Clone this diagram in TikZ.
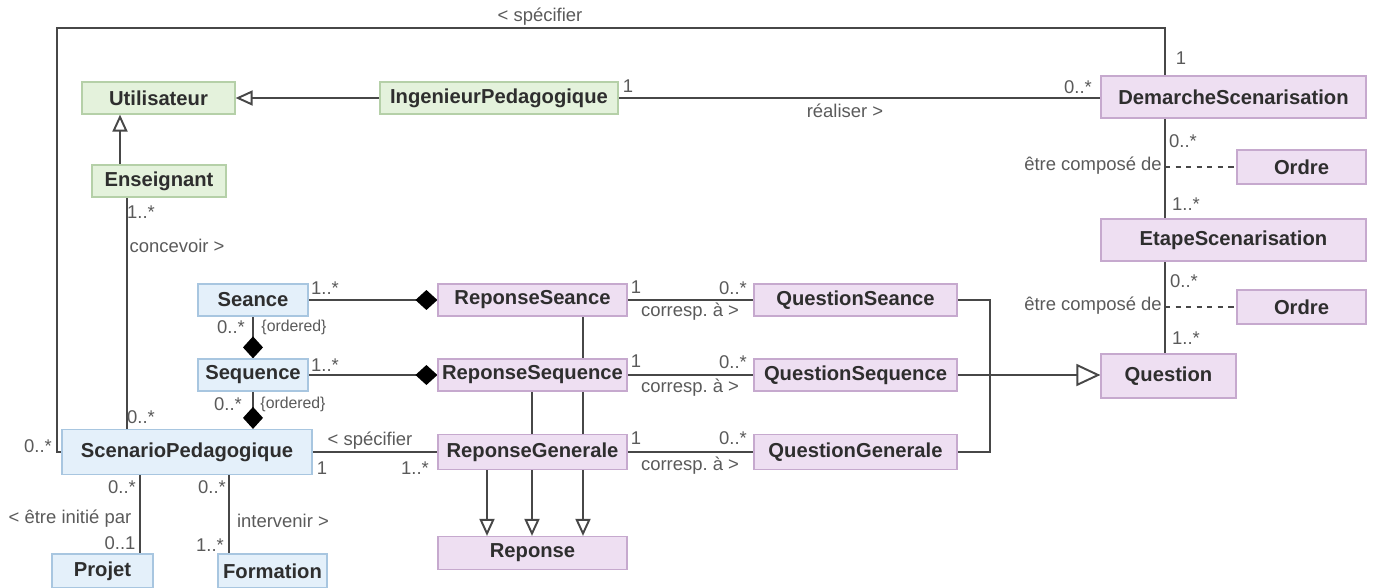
\documentclass[tikz,border=0pt]{standalone}
\usepackage{fontspec}
\setmainfont{Liberation Sans}
\usetikzlibrary{arrows.meta,backgrounds}

\definecolor{greenfill}{HTML}{E4F2DC}
\definecolor{greenline}{HTML}{B5D0A8}
\definecolor{bluefill}{HTML}{E4F0FA}
\definecolor{blueline}{HTML}{A8C6E0}
\definecolor{purplefill}{HTML}{EEDFF2}
\definecolor{purpleline}{HTML}{C6A9CE}
\definecolor{wire}{HTML}{474747}
\definecolor{note}{HTML}{5A5A5A}
\definecolor{boxtext}{HTML}{2E2E2E}

\begin{document}
\begin{tikzpicture}[x=0.02cm, y=-0.02cm,
    % Define the class box styles
    classbox/.style={draw, line width=0.7pt, inner sep=1pt, text=boxtext,
      font=\fontsize{11.5}{13}\selectfont\bfseries},
    greenbox/.style={classbox, fill=greenfill, draw=greenline},
    bluebox/.style={classbox, fill=bluefill, draw=blueline},
    purplebox/.style={classbox, fill=purplefill, draw=purpleline},
    % Define the connector and label styles
    wirepath/.style={draw=wire, line width=1.1pt},
    inherit/.style={wirepath, -{Triangle[open, length=0.34cm, width=0.3cm]}},
    compose/.style={wirepath, -{Diamond[length=0.44cm, width=0.4cm, fill=black, color=black]}},
    lbl/.style={text=note, inner sep=1pt, font=\fontsize{10.5}{12}\selectfont},
    smalllbl/.style={lbl, font=\fontsize{9}{10}\selectfont}
  ]
  \useasboundingbox (0,0) rectangle (1373,588);

  % Draw the users
  \node[greenbox, minimum width=3.06cm, minimum height=0.64cm] (utilisateur) at (158.5, 98) {Utilisateur};
  \node[greenbox, minimum width=4.76cm, minimum height=0.64cm] (ingenieur) at (499, 98) {IngenieurPedagogique};
  \node[greenbox, minimum width=2.68cm, minimum height=0.64cm] (enseignant) at (159, 181) {Enseignant};

  % Draw the scenario classes
  \node[bluebox, minimum width=2.2cm, minimum height=0.64cm] (seance) at (253, 300) {Seance};
  \node[bluebox, minimum width=2.2cm, minimum height=0.64cm] (sequence) at (253, 375) {Sequence};
  \node[bluebox, minimum width=5cm, minimum height=0.9cm] (scenario) at (187, 452) {ScenarioPedagogique};
  \node[bluebox, minimum width=2.02cm, minimum height=0.68cm] (projet) at (102.5, 571) {Projet};
  \node[bluebox, minimum width=2.18cm, minimum height=0.68cm] (formation) at (272.5, 571) {Formation};

  % Draw the answer and question classes
  \node[purplebox, minimum width=3.78cm, minimum height=0.64cm] (repSeance) at (532.5, 300) {ReponseSeance};
  \node[purplebox, minimum width=3.78cm, minimum height=0.64cm] (repSequence) at (532.5, 375) {ReponseSequence};
  \node[purplebox, minimum width=3.78cm, minimum height=0.7cm] (repGenerale) at (532.5, 452) {ReponseGenerale};
  \node[purplebox, minimum width=3.78cm, minimum height=0.66cm] (reponse) at (532.5, 553) {Reponse};
  \node[purplebox, minimum width=4.06cm, minimum height=0.64cm] (qSeance) at (855.5, 300) {QuestionSeance};
  \node[purplebox, minimum width=4.06cm, minimum height=0.64cm] (qSequence) at (855.5, 375) {QuestionSequence};
  \node[purplebox, minimum width=4.06cm, minimum height=0.7cm] (qGenerale) at (855.5, 452) {QuestionGenerale};

  % Draw the scenarisation classes
  \node[purplebox, minimum width=5.3cm, minimum height=0.84cm] (demarche) at (1233.5, 97) {DemarcheScenarisation};
  \node[purplebox, minimum width=2.58cm, minimum height=0.68cm] (ordreA) at (1301.5, 167) {Ordre};
  \node[purplebox, minimum width=5.3cm, minimum height=0.84cm] (etape) at (1233.5, 240) {EtapeScenarisation};
  \node[purplebox, minimum width=2.58cm, minimum height=0.68cm] (ordreB) at (1301.5, 307) {Ordre};
  \node[purplebox, minimum width=2.7cm, minimum height=0.88cm] (question) at (1168.5, 376) {Question};

  % Points where the connectors run
  \coordinate (userX) at (120, 0);
  \coordinate (teachX) at (127, 0);
  \coordinate (topLeft) at (57, 28);
  \coordinate (topRight) at (1165, 28);
  \coordinate (stemX) at (1165, 0);
  \coordinate (projX) at (140, 0);
  \coordinate (formX) at (229, 0);
  \coordinate (genX) at (487, 0);
  \coordinate (seqX) at (532, 0);
  \coordinate (seaX) at (583, 0);
  \coordinate (join) at (990, 375);

  % Draw the connectors behind the boxes
  \begin{pgfonlayer}{background}
    \draw[inherit] (ingenieur.west) -- (utilisateur.east);
    \draw[inherit] (userX |- enseignant.north) -- (userX |- utilisateur.south);
    \draw[wirepath] (ingenieur.east) -- (ingenieur.east -| demarche.west);
    \draw[wirepath] (scenario.west) -| (topLeft) -- (topRight) -- (topRight |- demarche.north);
    \draw[wirepath] (teachX |- enseignant.south) -- (teachX |- scenario.north);
    \draw[compose] (seance.south) -- (sequence.north);
    \draw[compose] (sequence.south) -- (sequence.south |- scenario.north);
    \draw[compose] (seance.east) -- (seance.east -| repSeance.west);
    \draw[compose] (sequence.east) -- (sequence.east -| repSequence.west);
    \draw[wirepath] (scenario.east) -- (scenario.east -| repGenerale.west);
    \draw[wirepath] (projX |- scenario.south) -- (projX |- projet.north);
    \draw[wirepath] (formX |- scenario.south) -- (formX |- formation.north);
    \draw[wirepath] (seaX |- repSeance.south) -- (seaX |- repSequence.north);
    \draw[inherit] (seaX |- repSequence.south) -- (seaX |- reponse.north);
    \draw[inherit] (seqX |- repSequence.south) -- (seqX |- reponse.north);
    \draw[inherit] (genX |- repGenerale.south) -- (genX |- reponse.north);
    \draw[wirepath] (repSeance.east) -- (qSeance.west);
    \draw[wirepath] (repSequence.east) -- (qSequence.west);
    \draw[wirepath] (repGenerale.east) -- (qGenerale.west);
    \draw[wirepath] (qSeance.east) -| (join);
    \draw[wirepath] (qGenerale.east) -| (join);
    \draw[inherit, -{Triangle[open, length=0.48cm, width=0.44cm]}] (qSequence.east) -- (qSequence.east -| question.west);
    \draw[wirepath] (stemX |- demarche.south) -- (stemX |- etape.north);
    \draw[wirepath] (stemX |- etape.south) -- (stemX |- question.north);
    \draw[wirepath, dashed] (stemX |- ordreA.west) -- (ordreA.west);
    \draw[wirepath, dashed] (stemX |- ordreB.west) -- (ordreB.west);
  \end{pgfonlayer}

  % Add labels to the connectors
  \node[lbl] (specTop) at (540, 17) {< spécifier};
  \node[lbl] (specTopA) at (1181, 58) {1};
  \node[lbl] (specTopB) at (38, 446) {0..*};
  \node[lbl] (realA) at (628, 86) {1};
  \node[lbl] (realB) at (1078, 87) {0..*};
  \node[lbl] (realTxt) at (845, 111) {réaliser >};
  \node[lbl] (concA) at (141, 212) {1..*};
  \node[lbl] (concTxt) at (177, 246) {concevoir >};
  \node[lbl] (concB) at (141, 417) {0..*};
  \node[lbl] (demA) at (1183, 141) {0..*};
  \node[lbl] (demTxt) at (1093, 166) {être composé de};
  \node[lbl] (demB) at (1186, 204) {1..*};
  \node[lbl] (etaA) at (1184, 281) {0..*};
  \node[lbl] (etaTxt) at (1093, 306) {être composé de};
  \node[lbl] (etaB) at (1186, 338) {1..*};
  \node[lbl] (seaA) at (231, 327) {0..*};
  \node[smalllbl] (seaOrd) at (294, 327) {\{ordered\}};
  \node[lbl] (seqA) at (228, 404) {0..*};
  \node[smalllbl] (seqOrd) at (293, 404) {\{ordered\}};
  \node[lbl] (seaRep) at (325, 288) {1..*};
  \node[lbl] (seqRep) at (325, 365) {1..*};
  \node[lbl] (specTxt) at (370, 441) {< spécifier};
  \node[lbl] (specA) at (322, 468) {1};
  \node[lbl] (specB) at (415, 468) {1..*};
  \node[lbl] (projA) at (122, 487) {0..*};
  \node[lbl] (projTxt) at (70, 519) {< être initié par};
  \node[lbl] (projB) at (120, 543) {0..1};
  \node[lbl] (formA) at (212, 487) {0..*};
  \node[lbl] (formTxt) at (283, 521) {intervenir >};
  \node[lbl] (formB) at (210, 545) {1..*};
  \node[lbl] (corA1) at (636, 287) {1};
  \node[lbl] (corA2) at (733, 288) {0..*};
  \node[lbl] (corATxt) at (690, 312) {corresp.\ à >};
  \node[lbl] (corB1) at (636, 361) {1};
  \node[lbl] (corB2) at (733, 362) {0..*};
  \node[lbl] (corBTxt) at (690, 388) {corresp.\ à >};
  \node[lbl] (corC1) at (636, 438) {1};
  \node[lbl] (corC2) at (733, 438) {0..*};
  \node[lbl] (corCTxt) at (690, 466) {corresp.\ à >};
\end{tikzpicture}
\end{document}
